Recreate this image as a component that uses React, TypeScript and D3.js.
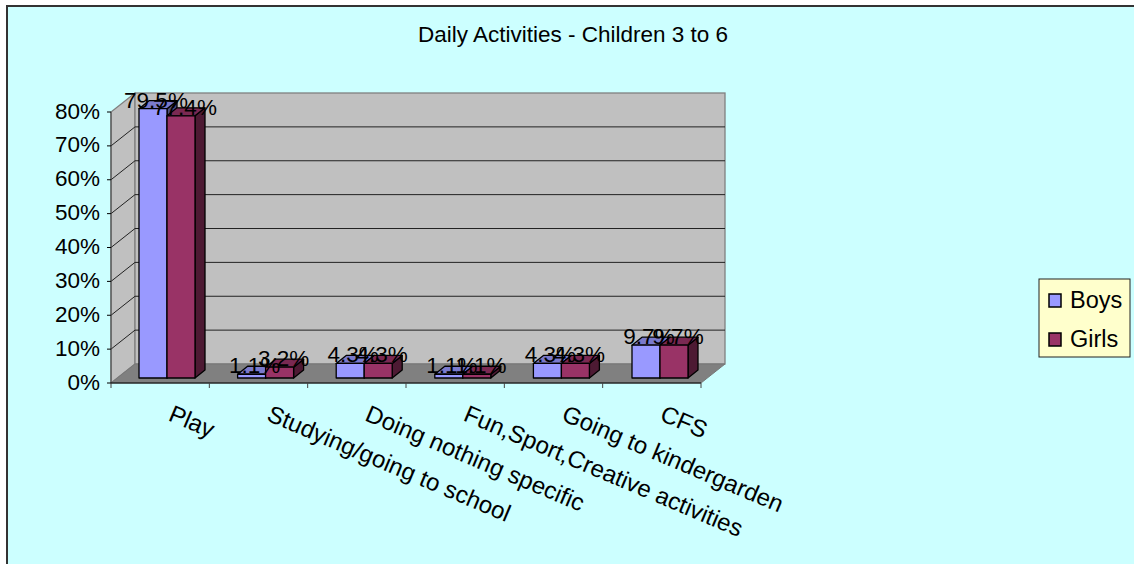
import React from "react";
import * as d3 from "d3";

const categories = [
  "Play",
  "Studying/going to school",
  "Doing nothing specific",
  "Fun,Sport,Creative activities",
  "Going to kindergarden",
  "CFS",
];
const boys = [79.5, 1.1, 4.3, 1.1, 4.3, 9.7];
const girls = [77.4, 3.2, 4.3, 1.1, 4.3, 9.7];
const yTicks = [0, 10, 20, 30, 40, 50, 60, 70, 80];
const seriesNames = ["Boys", "Girls"];

const FONT = "'Liberation Sans', Arial, sans-serif";
const BG = "#CCFFFF";
const BOY = { front: "#9999FF", top: "#7A7ACC", side: "#4D4D80" };
const GIRL = { front: "#993366", top: "#7A2952", side: "#4D1A33" };

const W = 1134;
const H = 564;

// Front edge of the floor and the oblique depth of the 3D box.
const x0 = 111;
const xEnd = 701;
const y0 = 383;
const y80 = 112;
const depthX = 24;
const depthY = 19;

const xScale = d3.scaleBand<number>().domain(d3.range(categories.length)).range([x0, xEnd]);
const yScale = d3.scaleLinear().domain([0, 80]).range([y0, y80]);
// Left edge of each cluster of two bars.
const barScale = d3.scaleLinear().domain([0, categories.length - 1]).range([139, 632]);

// Bars stand a little way into the floor and have a shallower depth of their own.
const barInsetY = 5;
const barDepthX = 10;
const barDepthY = 8;
const barW = 28;

const AXIS_FONT = 22.5;
const CAT_FONT = 24;
const CAT_ANGLE = 23;

const poly = (pts: [number, number][]) => pts.map((p) => p.join(",")).join(" ");

function Bar({ x, value, c }: { x: number; value: number; c: typeof BOY }) {
  const base = y0 - barInsetY;
  const top = yScale(value) - barInsetY;
  const stroke = { stroke: "#000", strokeWidth: 1.3, strokeLinejoin: "round" as const };
  return (
    <g>
      <polygon
        points={poly([
          [x + barW, base],
          [x + barW + barDepthX, base - barDepthY],
          [x + barW + barDepthX, top - barDepthY],
          [x + barW, top],
        ])}
        fill={c.side}
        {...stroke}
      />
      <polygon
        points={poly([
          [x, top],
          [x + barDepthX, top - barDepthY],
          [x + barW + barDepthX, top - barDepthY],
          [x + barW, top],
        ])}
        fill={c.top}
        {...stroke}
      />
      <rect x={x} y={top} width={barW} height={base - top} fill={c.front} {...stroke} />
    </g>
  );
}

export default function App() {
  const bw = xScale.bandwidth();
  const tickXs = d3.range(categories.length + 1).map((i) => x0 + i * bw);

  return (
    <svg
      width={W}
      height={H}
      style={{ position: "fixed", left: 0, top: 0, display: "block", background: "#fff" }}
      fontFamily={FONT}
    >
      <rect x={7} y={6} width={W} height={H} fill={BG} stroke="#333" strokeWidth={2} />
      <text x={573} y={42} textAnchor="middle" fontSize={22.5} fill="#000">
        Daily Activities - Children 3 to 6
      </text>

      {/* Box walls */}
      <polygon
        points={poly([
          [x0, y0],
          [x0 + depthX, y0 - depthY],
          [x0 + depthX, y80 - depthY],
          [x0, y80],
        ])}
        fill="#C0C0C0"
        stroke="#808080"
        strokeWidth={1.3}
      />
      <rect
        x={x0 + depthX}
        y={y80 - depthY}
        width={xEnd - x0}
        height={y0 - y80}
        fill="#C0C0C0"
        stroke="#808080"
        strokeWidth={1.3}
      />
      {yTicks.slice(1, -1).map((t) => (
        <polyline
          key={t}
          points={poly([
            [x0, yScale(t)],
            [x0 + depthX, yScale(t) - depthY],
            [xEnd + depthX, yScale(t) - depthY],
          ])}
          fill="none"
          stroke="#222"
          strokeWidth={1}
        />
      ))}
      <polygon
        points={poly([
          [x0, y0],
          [x0 + depthX, y0 - depthY],
          [xEnd + depthX, y0 - depthY],
          [xEnd, y0],
        ])}
        fill="#808080"
        stroke="#777"
        strokeWidth={1}
      />

      {/* Axes */}
      <line x1={x0} x2={x0} y1={y80} y2={y0} stroke="#444" strokeWidth={1} />
      <line x1={x0} x2={xEnd} y1={y0} y2={y0} stroke="#000" strokeWidth={1.2} />
      {yTicks.map((t) => (
        <g key={t}>
          <line x1={x0 - 4} x2={x0} y1={yScale(t)} y2={yScale(t)} stroke="#000" />
          <text x={x0 - 11} y={yScale(t) + 6.5} textAnchor="end" fontSize={AXIS_FONT} fill="#000">
            {t}%
          </text>
        </g>
      ))}
      {tickXs.map((x) => (
        <line key={x} x1={x} x2={x} y1={y0} y2={y0 + 5} stroke="#444" />
      ))}

      {/* Bars */}
      {categories.map((_, i) => (
        <g key={i}>
          <Bar x={barScale(i)} value={boys[i]} c={BOY} />
          <Bar x={barScale(i) + barW} value={girls[i]} c={GIRL} />
        </g>
      ))}

      {/* Value labels */}
      {categories.map((_, i) => (
        <g key={i} fontSize={AXIS_FONT} fill="#000" textAnchor="middle">
          <text x={barScale(i) + barW / 2 + 3} y={yScale(boys[i]) - barInsetY - 1}>
            {boys[i].toFixed(1)}%
          </text>
          <text x={barScale(i) + barW * 1.5 + 4} y={yScale(girls[i]) - barInsetY - 1}>
            {girls[i].toFixed(1)}%
          </text>
        </g>
      ))}

      {/* Slanted category labels */}
      {categories.map((c, i) => (
        <text
          key={c}
          transform={`translate(${(xScale(i) as number) + bw / 2 + 7},${y0 + 37}) rotate(${CAT_ANGLE})`}
          fontSize={CAT_FONT}
          fill="#000"
        >
          {c}
        </text>
      ))}

      {/* Legend */}
      <rect x={1039} y={279} width={91} height={78} fill="#FFFFCC" stroke="#222" strokeWidth={1} />
      {seriesNames.map((s, i) => (
        <g key={s}>
          <rect
            x={1049}
            y={294 + i * 39}
            width={12}
            height={13}
            fill={i === 0 ? BOY.front : GIRL.front}
            stroke="#000"
            strokeWidth={1.5}
          />
          <text x={1070} y={308 + i * 39} fontSize={23.5} fill="#000">
            {s}
          </text>
        </g>
      ))}
    </svg>
  );
}
